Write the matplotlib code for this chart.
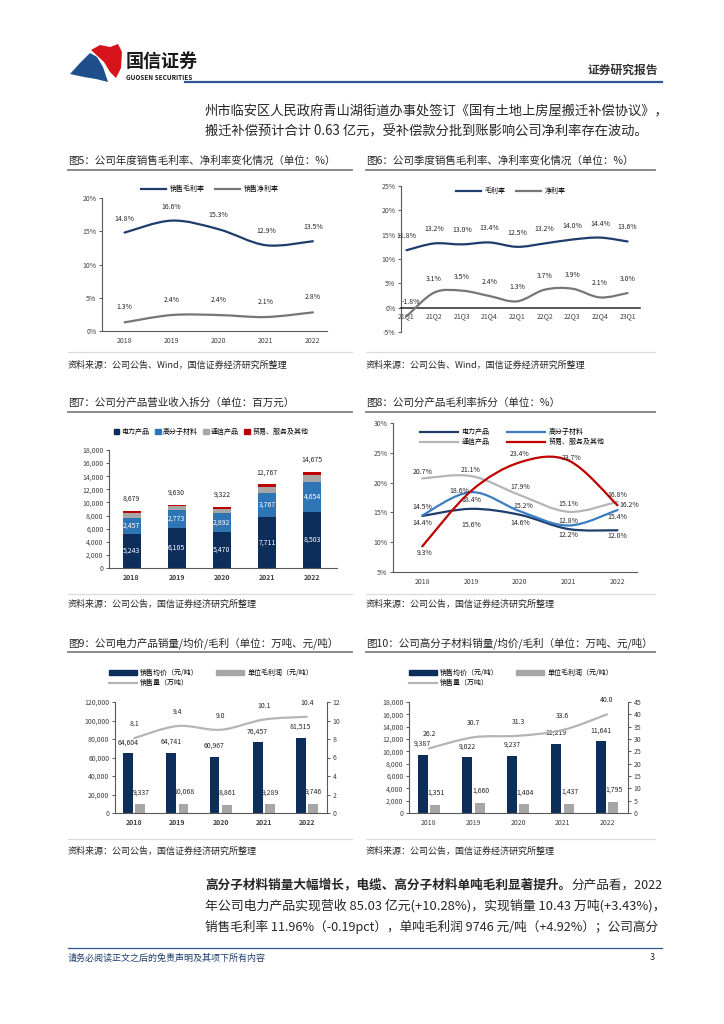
import numpy as np
import matplotlib
matplotlib.use("Agg")
import matplotlib.pyplot as plt
from matplotlib.path import Path
from matplotlib.patches import PathPatch, Patch, Polygon
from matplotlib.lines import Line2D
from matplotlib.ticker import FuncFormatter

plt.rcParams['font.family'] = ['Noto Sans CJK SC', 'DejaVu Sans']

W, H = 724, 1024

# ---- data ----
years = ['2018', '2019', '2020', '2021', '2022']
gross_margin_year = [14.8, 16.6, 15.3, 12.9, 13.5]
net_margin_year = [1.3, 2.4, 2.4, 2.1, 2.8]

quarters = ['21Q1', '21Q2', '21Q3', '21Q4', '22Q1', '22Q2', '22Q3', '22Q4', '23Q1']
gross_margin_q = [11.8, 13.2, 13.0, 13.4, 12.5, 13.2, 14.0, 14.4, 13.6]
net_margin_q = [-1.8, 3.1, 3.5, 2.4, 1.3, 3.7, 3.9, 2.1, 3.0]

rev_power = [5243, 6105, 5470, 7711, 8503]
rev_polymer = [2457, 2773, 2892, 3767, 4654]
rev_telecom = [700, 550, 700, 900, 1050]
rev_trade = [279, 202, 260, 389, 468]
rev_total = [8679, 9630, 9322, 12767, 14675]

margin_power = [14.4, 15.6, 14.6, 12.2, 12.0]
margin_polymer = [14.5, 18.4, 15.2, 12.8, 15.4]
margin_telecom = [20.7, 21.1, 17.9, 15.1, 16.8]
margin_trade = [9.3, 18.6, 23.4, 23.7, 16.2]

power_price = [64604, 64741, 60967, 76457, 81515]
power_profit = [9337, 10068, 8861, 9289, 9746]
power_volume = [8.1, 9.4, 9.0, 10.1, 10.4]

poly_price = [9387, 9022, 9237, 11219, 11641]
poly_profit = [1351, 1660, 1404, 1437, 1795]
poly_volume = [26.2, 30.7, 31.3, 33.6, 40.0]

# colours
navy = '#0d2d5b'
navy_line = '#1f3d6c'
blue = '#2e75b6'
blue_line = '#3b7dc4'
gray_bar = '#a6a6a6'
gray_line = '#767676'
light_line = '#b5b5b5'
red = '#c00000'
txt = '#262626'

fig = plt.figure(figsize=(W / 100, H / 100), dpi=100)

# background axes in pixel coordinates
bg = fig.add_axes([0, 0, 1, 1])
bg.set_xlim(0, W)
bg.set_ylim(H, 0)
bg.axis('off')


def px_axes(x0, y0, x1, y1):
    ax = fig.add_axes([x0 / W, 1 - y1 / H, (x1 - x0) / W, (y1 - y0) / H])
    ax.set_facecolor('none')
    return ax


def smooth_line(ax, xs, ys, color, lw=1.6):
    # excel-style smoothed line through the data points
    pts = np.column_stack([xs, ys]).astype(float)
    n = len(pts)
    verts = [pts[0]]
    codes = [Path.MOVETO]
    for i in range(n - 1):
        p0 = pts[max(i - 1, 0)]
        p1 = pts[i]
        p2 = pts[i + 1]
        p3 = pts[min(i + 2, n - 1)]
        verts += [p1 + (p2 - p0) / 6, p2 - (p3 - p1) / 6, p2]
        codes += [Path.CURVE4] * 3
    ax.add_patch(PathPatch(Path(verts, codes), fill=False, edgecolor=color,
                           lw=lw, zorder=3, capstyle='round'))


def style(ax):
    for s in ['top', 'right']:
        ax.spines[s].set_visible(False)
    for s in ['left', 'bottom']:
        ax.spines[s].set_color('#595959')
        ax.spines[s].set_linewidth(0.8)
    ax.tick_params(labelsize=5, length=2, width=0.6, colors='#404040', pad=2)
    ax.tick_params(axis='x', length=0, pad=4)


def label(ax, x, y, s, dx=0, dy=14, color=txt):
    ax.annotate(s, (x, y), xytext=(dx, dy), textcoords='offset pixels',
                ha='center', va='center', fontsize=5, color=color, zorder=5)


pct = FuncFormatter(lambda v, _: f'{v:.0f}%')
thou = FuncFormatter(lambda v, _: f'{v:,.0f}')


def fig_legend(ax, handles, labels, cx, cy, ncol, **kw):
    opts = dict(frameon=False, fontsize=5, columnspacing=1.5, handletextpad=0.5,
                labelspacing=0.3, borderpad=0)
    opts.update(kw)
    ax.legend(handles, labels, loc='center', bbox_to_anchor=(cx / W, 1 - cy / H),
              bbox_transform=fig.transFigure, ncol=ncol, **opts)


# ---- header ----
bg.add_patch(Polygon([(70, 74), (80, 63), (90, 53), (97, 57), (103, 67), (108, 82), (96, 79), (84, 77)],
                     closed=True, color='#1f4e8c', lw=0))
bg.add_patch(Polygon([(91, 50), (100, 45), (110, 47), (118, 44), (122, 52), (121, 68), (116, 78), (110, 72), (104, 62)],
                     closed=True, color='#d7131c', lw=0))
bg.text(126, 61, '国信证券', fontsize=13, fontweight='bold', color='#1a1a1a', va='center')
bg.text(126, 77, 'GUOSEN SECURITIES', fontsize=4.6, fontweight='bold', color='#1a1a1a', va='center')
bg.text(658, 70, '证券研究报告', fontsize=8.5, fontweight='bold', color='#333333', va='center', ha='right')
bg.plot([185, 662], [82, 82], color='#2f5597', lw=1.6)

bg.text(205, 111, '州市临安区人民政府青山湖街道办事处签订《国有土地上房屋搬迁补偿协议》，',
        fontsize=9.55, va='center', color=txt)
bg.text(205, 131, '搬迁补偿预计合计 0.63 亿元，受补偿款分批到账影响公司净利率存在波动。',
        fontsize=9.55, va='center', color=txt)

# ---- titles, rules and sources ----
titles = [
    (68, 161, '图5：公司年度销售毛利率、净利率变化情况（单位：%）'),
    (366, 161, '图6：公司季度销售毛利率、净利率变化情况（单位：%）'),
    (68, 403, '图7：公司分产品营业收入拆分（单位：百万元）'),
    (366, 403, '图8：公司分产品毛利率拆分（单位：%）'),
    (68, 643, '图9：公司电力产品销量/均价/毛利（单位：万吨、元/吨）'),
    (366, 643, '图10：公司高分子材料销量/均价/毛利（单位：万吨、元/吨）'),
]
for x, y, s in titles:
    bg.text(x, y, s, fontsize=7.6, va='center', color=txt)
    x1 = 352 if x < 200 else 655
    bg.plot([x, x1], [y + 8.5, y + 8.5], color='#7f7f7f', lw=1.3)

src_a = '资料来源：公司公告、Wind，国信证券经济研究所整理'
src_b = '资料来源：公司公告，国信证券经济研究所整理'
for y_sep, y_src, s in [(352, 365, src_a), (594, 604, src_b), (839, 851, src_b)]:
    for x0, x1 in [(68, 352), (366, 655)]:
        bg.plot([x0, x1], [y_sep, y_sep], color='#d9d9d9', lw=0.8)
        bg.text(x0, y_src, s, fontsize=6.5, va='center', color=txt)

# ---- figure 5 ----
ax5 = px_axes(102, 198, 327, 331)
x5 = np.arange(len(years))
smooth_line(ax5, x5, gross_margin_year, navy_line)
smooth_line(ax5, x5, net_margin_year, gray_line)
for i, v in enumerate(gross_margin_year):
    label(ax5, i, v, f'{v:.1f}%')
for i, v in enumerate(net_margin_year):
    label(ax5, i, v, f'{v:.1f}%', dy=15)
ax5.set_xlim(-0.48, 4.3)
ax5.set_ylim(0, 20)
ax5.set_xticks(x5, years)
ax5.set_yticks(range(0, 21, 5))
ax5.yaxis.set_major_formatter(pct)
style(ax5)
fig_legend(ax5, [Line2D([], [], color=navy_line, lw=1.6), Line2D([], [], color=gray_line, lw=1.6)],
           ['销售毛利率', '销售净利率'], 210, 189, 2, handlelength=3.6)

# ---- figure 6 ----
ax6 = px_axes(401, 186, 640, 332)
x6 = np.arange(len(quarters))
smooth_line(ax6, x6, gross_margin_q, navy_line)
smooth_line(ax6, x6, net_margin_q, gray_line)
for i, v in enumerate(gross_margin_q):
    label(ax6, i, v, f'{v:.1f}%')
for i, v in enumerate(net_margin_q):
    label(ax6, i, v, f'{v:.1f}%', dx=4 if i == 0 else 0)
ax6.set_xlim(-0.2, 8.45)
ax6.set_ylim(-5, 25)
ax6.set_xticks(x6, quarters)
ax6.set_yticks(range(-5, 26, 5))
ax6.yaxis.set_major_formatter(pct)
style(ax6)
ax6.spines['bottom'].set_position(('data', 0))
ax6.spines['bottom'].set_color('#262626')
ax6.spines['bottom'].set_linewidth(1.1)
ax6.tick_params(axis='x', pad=3)
fig_legend(ax6, [Line2D([], [], color=navy_line, lw=1.6), Line2D([], [], color=gray_line, lw=1.6)],
           ['毛利率', '净利率'], 511, 191, 2, handlelength=3.6)

# ---- figure 7 ----
ax7 = px_axes(109, 450, 337, 568)
x7 = np.arange(len(years))
bw = 0.4
bottom = np.zeros(len(years))
for vals, c in [(rev_power, navy), (rev_polymer, blue), (rev_telecom, gray_bar), (rev_trade, red)]:
    ax7.bar(x7, vals, bw, bottom=bottom, color=c, lw=0, zorder=2)
    bottom += np.array(vals)
for i in range(len(years)):
    ax7.text(i, rev_power[i] / 2, f'{rev_power[i]:,}', ha='center', va='center', fontsize=5, color='white', zorder=5)
    ax7.text(i, rev_power[i] + rev_polymer[i] / 2, f'{rev_polymer[i]:,}', ha='center', va='center',
             fontsize=5, color='white', zorder=5)
    label(ax7, i, rev_total[i], f'{rev_total[i]:,}', dy=12)
ax7.set_xlim(-0.5, 4.55)
ax7.set_ylim(0, 18000)
ax7.set_xticks(x7, years, fontweight='bold')
ax7.set_yticks(range(0, 18001, 2000))
ax7.yaxis.set_major_formatter(thou)
style(ax7)
fig_legend(ax7, [Patch(color=navy), Patch(color=blue), Patch(color=gray_bar), Patch(color=red)],
           ['电力产品', '高分子材料', '通信产品', '贸易、服务及其他'], 211, 432, 4,
           handlelength=0.8, handleheight=0.8, handletextpad=0.3, columnspacing=0.8)

# ---- figure 8 ----
ax8 = px_axes(393, 423, 637, 572)
x8 = np.arange(len(years))
series8 = [
    (margin_telecom, light_line, [(0, 6), (0, 6), (0, 8), (0, 8), (0, 7)]),
    (margin_power, navy_line, [(0, -7), (0, -16), (0, -8), (0, -6), (0, -6)]),
    (margin_polymer, blue_line, [(0, 8), (0, -8), (3, 5), (0, 5), (0, -7)]),
    (margin_trade, red, [(2, -7), (-12, 0), (0, 8), (3, 3), (12, 0)]),
]
for vals, c, offs in series8:
    smooth_line(ax8, x8, vals, c)
    for i, v in enumerate(vals):
        label(ax8, i, v, f'{v:.1f}%', dx=offs[i][0], dy=offs[i][1])
ax8.set_xlim(-0.6, 4.4)
ax8.set_ylim(5, 30)
ax8.set_xticks(x8, years)
ax8.set_yticks(range(5, 31, 5))
ax8.yaxis.set_major_formatter(pct)
style(ax8)
h8 = {n: Line2D([], [], color=c, lw=1.6) for n, c in
      [('电力产品', navy_line), ('高分子材料', blue_line), ('通信产品', light_line), ('贸易、服务及其他', red)]}
order8 = ['电力产品', '通信产品', '高分子材料', '贸易、服务及其他']
fig_legend(ax8, [h8[n] for n in order8], order8, 512, 437, 2, handlelength=5.5, columnspacing=2.5)


# ---- figures 9 and 10 ----
def price_chart(rect, price, profit, volume, ymax, ystep, rmax, rstep, legend_cx, bold_years):
    ax = px_axes(*rect)
    x = np.arange(len(years))
    w = 0.23
    ax.bar(x - 0.14, price, w, color=navy, lw=0, zorder=2)
    ax.bar(x + 0.14, profit, w, color=gray_bar, lw=0, zorder=2)
    for i in range(len(years)):
        label(ax, i - 0.14, price[i], f'{price[i]:,}', dy=11)
        label(ax, i + 0.16, profit[i], f'{profit[i]:,}', dy=12)
    ax.set_xlim(-0.45, 4.47)
    ax.set_ylim(0, ymax)
    ax.set_xticks(x, years, fontweight='bold' if bold_years else 'normal')
    ax.set_yticks(np.arange(0, ymax + 1, ystep))
    ax.yaxis.set_major_formatter(thou)
    style(ax)
    ax2 = ax.twinx()
    smooth_line(ax2, x, volume, light_line)
    for i, v in enumerate(volume):
        label(ax2, i, v, f'{v:.1f}', dy=14)
    ax2.set_ylim(0, rmax)
    ax2.set_yticks(np.arange(0, rmax + 1, rstep))
    for s in ['top', 'left', 'bottom']:
        ax2.spines[s].set_visible(False)
    ax2.spines['right'].set_color('#595959')
    ax2.spines['right'].set_linewidth(0.8)
    ax2.tick_params(labelsize=5, length=2, width=0.6, colors='#404040', pad=2)
    handles = [Patch(color=navy), Line2D([], [], color=light_line, lw=1.6), Patch(color=gray_bar)]
    labels = ['销售均价（元/吨）', '销售量（万吨）', '单位毛利润（元/吨）']
    fig_legend(ax2, handles, labels, legend_cx, 678, 2, handlelength=4, handleheight=0.7,
               columnspacing=2.5)
    return ax


price_chart((115, 702, 327, 813), power_price, power_profit, power_volume,
            120000, 20000, 12, 2, 211, True)
price_chart((409, 702, 628, 813), poly_price, poly_profit, poly_volume,
            18000, 2000, 45, 5, 511, False)

# ---- bottom text ----
renderer = fig.canvas.get_renderer()
t = bg.text(205, 885, '高分子材料销量大幅增长，电缆、高分子材料单吨毛利显著提升。',
            fontsize=9.1, fontweight='bold', va='center', color=txt)
ext = t.get_window_extent(renderer=renderer)
x_end = bg.transData.inverted().transform((ext.x1, ext.y0))[0]
bg.text(x_end, 885, '分产品看，2022', fontsize=9.1, va='center', color=txt)
bg.text(205, 906, '年公司电力产品实现营收 85.03 亿元(+10.28%)，实现销量 10.43 万吨(+3.43%)，',
        fontsize=9.3, va='center', color=txt)
bg.text(205, 927, '销售毛利率 11.96%（-0.19pct），单吨毛利润 9746 元/吨（+4.92%）；公司高分',
        fontsize=9.1, va='center', color=txt)

# ---- footer ----
bg.plot([68, 662], [948, 948], color='#2f5597', lw=0.9)
bg.text(68, 958, '请务必阅读正文之后的免责声明及其项下所有内容', fontsize=6.5, style='italic',
        color='#1f3d6c', va='center')
bg.text(655, 958, '3', fontsize=6.5, color=txt, va='center', ha='right')

fig.savefig('out.png', dpi=100)
